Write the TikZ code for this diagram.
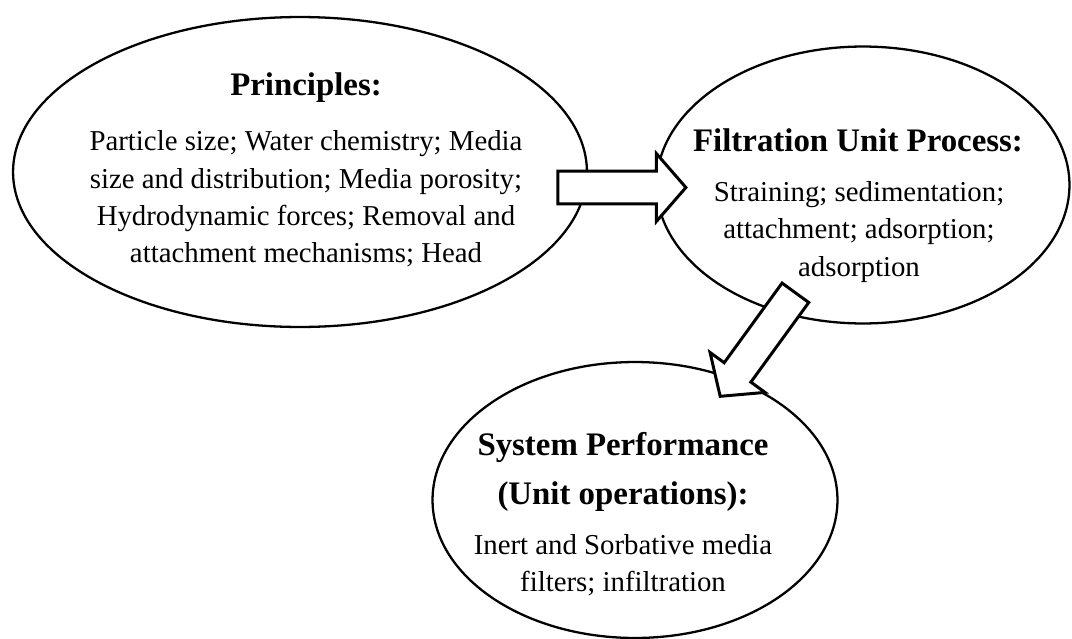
\documentclass[tikz,border=0pt]{standalone}
\usepackage{fontspec}
\setmainfont{Liberation Serif}
\usetikzlibrary{shapes,arrows,positioning,calc}

\begin{document}
\begin{tikzpicture}[x=0.02cm, y=-0.02cm,
    bubble/.style={ellipse, draw, line width=1.3pt, inner sep=0pt},
    headtxt/.style={font=\fontsize{18.7}{27.9}\selectfont\bfseries, align=center, inner sep=0pt},
    bodytxt/.style={font=\fontsize{16.4}{21.2}\selectfont, align=center, inner sep=0pt},
    fatarrow/.style={single arrow, draw, fill=white, line width=1.7pt,
        inner xsep=0pt, inner ysep=0.3cm, minimum height=2.56cm,
        single arrow head extend=0.35cm, single arrow tip angle=98}]
    \useasboundingbox (0,0) rectangle (1072,639);

    % the three bubbles
    \node (prin) [bubble, minimum width=11.48cm, minimum height=6.2cm] at (300,172) {};
    \node (filt) [bubble, minimum width=8.26cm, minimum height=5.54cm] at (863,185) {};
    \node (sys) [bubble, minimum width=8.1cm, minimum height=5.52cm] at (635,500) {};

    % texts
    \node (prinhead) [headtxt] at (306,88) {Principles:};
    \node (prinbody) [bodytxt] at (306,199) {Particle size; Water chemistry; Media\\
        size and distribution; Media porosity;\\ Hydrodynamic forces; Removal and\\
        attachment mechanisms; Head};
    \node (filthead) [headtxt] at (858,140) {Filtration Unit Process:};
    \node (filtbody) [bodytxt] at (859,232) {Straining; sedimentation;\\
        attachment; adsorption;\\ adsorption};
    \node (syshead) [headtxt] at (623,472) {System Performance\\ (Unit operations):};
    \node (sysbody) [bodytxt] at (623,565) {Inert and Sorbative media\\ filters; infiltration};

    % block arrows
    \node (arrA) [fatarrow] at ($(prin.east)!0.5!(filt.west)+(-7,9)$) {};
    \node (arrB) [fatarrow, rotate=-126] at ($(filt.south)!0.5!(sys.north)+(13,-4)$) {};
\end{tikzpicture}
\end{document}
